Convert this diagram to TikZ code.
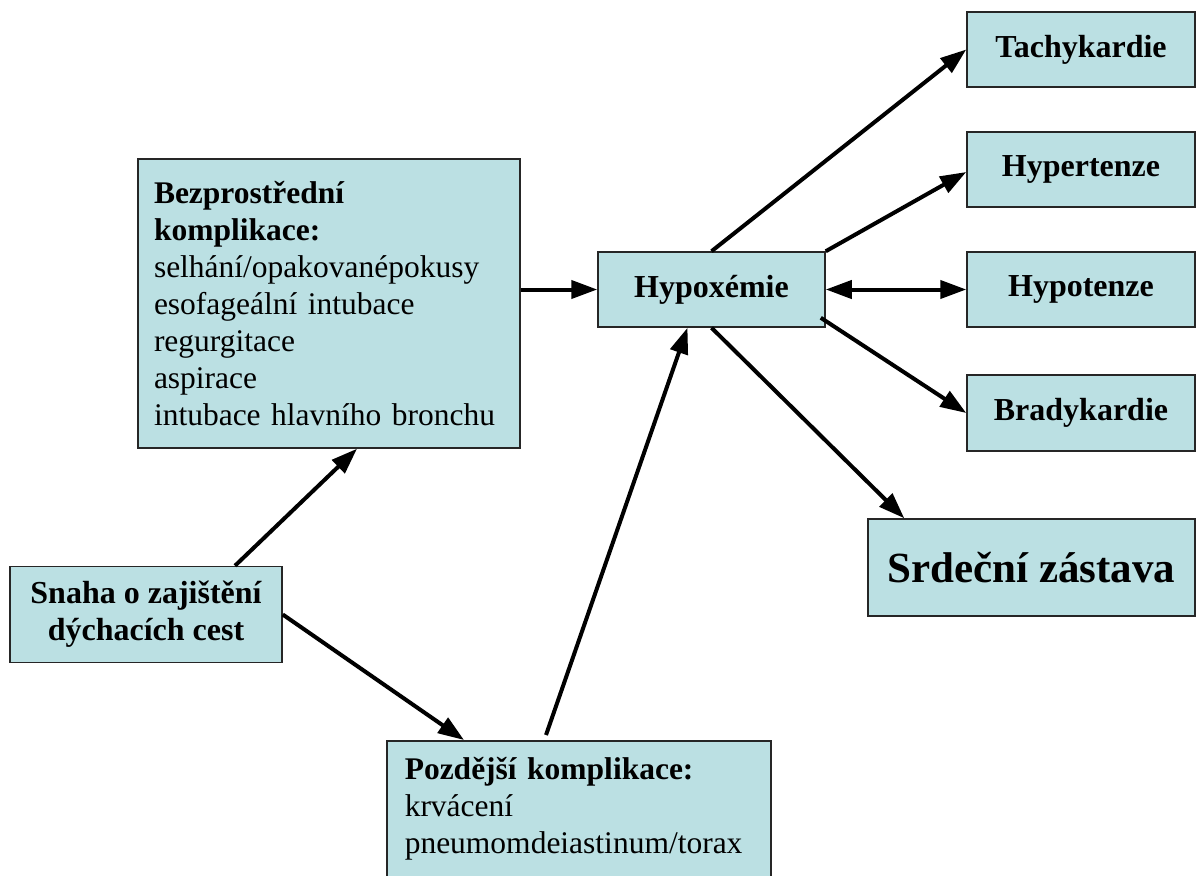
\documentclass[tikz,border=0pt]{standalone}
\usepackage{fontspec}
\setmainfont{Liberation Serif}
\usetikzlibrary{arrows.meta}
\definecolor{boxfill}{RGB}{187,224,227}
\begin{document}
\begin{tikzpicture}[x=1pt,y=-1pt,
  >={Triangle[length=26pt,width=18pt]},
  box/.style={draw=black!85,line width=1.5pt,fill=boxfill,inner sep=0pt,
    font=\fontsize{31.5}{37}\selectfont},
  head/.style={box,font=\fontsize{32}{37}\selectfont\bfseries},
  link/.style={line width=4pt,->}]
\useasboundingbox (0,0) rectangle (1196,875);
% left side
\node[box,text width=350pt,inner xsep=16pt,align=left,minimum height=289pt]
  (bez) at (329,303.5) {\textbf{Bezprostřední}\\ \textbf{komplikace:}\\
  selhání/opakovanépokusy\\ esofageální intubace\\ regurgitace\\ aspirace\\
  intubace hlavního bronchu};
\node[head,align=center,minimum width=272pt,minimum height=96pt]
  (snaha) at (146,614.5) {Snaha o zajištění\\ dýchacích cest};
\node[box,anchor=north west,text width=348pt,inner xsep=18pt,inner ysep=17pt,align=left]
  (pozd) at (386,740) {\textbf{Pozdější komplikace:}\\ krvácení\\ pneumomdeiastinum/torax\\ \mbox{}};
% middle
\node[head,minimum width=227pt,minimum height=75pt] (hyp) at (711.5,289.5) {Hypoxémie};
% right column
\node[head,minimum width=228pt,minimum height=75pt] (tachy) at (1081,49.5) {Tachykardie};
\node[head,minimum width=228pt,minimum height=75pt] (hypert) at (1081,169.5) {Hypertenze};
\node[head,minimum width=228pt,minimum height=75pt] (hypot) at (1081,289.5) {Hypotenze};
\node[head,minimum width=228pt,minimum height=76pt] (brady) at (1081,413) {Bradykardie};
\node[head,font=\fontsize{43}{48}\selectfont\bfseries,minimum width=327pt,minimum height=97pt]
  (srd) at (1031.5,567.5) {Srdeční zástava};
% arrows
\draw[link] (bez.east |- hyp.west) -- (hyp.west);
\draw[link] (hyp.north) -- (tachy.west);
\draw[link] (hyp.north east) -- ([yshift=-2.5pt]hypert.west);
\draw[link,<->] (hyp.east) -- (hypot.west);
\draw[link] ([xshift=-5pt,yshift=10pt]hyp.south east) -- (brady.west);
\draw[link] (hyp.south) -- ([xshift=37pt]srd.north west);
\draw[link] ([xshift=89pt]snaha.north) -- ([xshift=28pt]bez.south);
\draw[link] (snaha.east) -- ([xshift=78pt]pozd.north west);
\draw[link] ([xshift=160pt,yshift=5pt]pozd.north west) -- ([xshift=-24pt]hyp.south);
\end{tikzpicture}
\end{document}
